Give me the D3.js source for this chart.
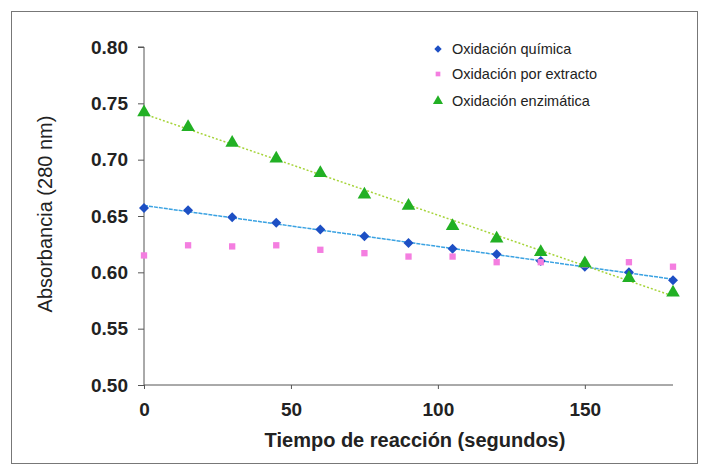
<!DOCTYPE html>
<html>
<head>
<meta charset="utf-8">
<script src="https://cdn.jsdelivr.net/npm/d3@7"></script>
<style>
  html, body { margin: 0; padding: 0; background: #fff; }
  svg { display: block; font-family: "Liberation Sans", Arial, sans-serif; }
</style>
</head>
<body>
<svg id="chart" width="702" height="467"></svg>
<script>
// Reaction time (s) and absorbance at 280 nm for each oxidation method
const tiempos = [0, 15, 30, 45, 60, 75, 90, 105, 120, 135, 150, 165, 180];
const quimica = [0.657, 0.655, 0.649, 0.644, 0.638, 0.632, 0.626, 0.621, 0.616, 0.610, 0.605, 0.600, 0.593];
const extracto = [0.615, 0.624, 0.623, 0.624, 0.620, 0.617, 0.614, 0.614, 0.609, 0.609, 0.607, 0.609, 0.605];
const enzimatica = [0.742, 0.729, 0.715, 0.701, 0.688, 0.669, 0.659, 0.641, 0.630, 0.618, 0.608, 0.595, 0.582];

const xTicks = [0, 50, 100, 150];
const yTicks = [0.50, 0.55, 0.60, 0.65, 0.70, 0.75, 0.80];

// diamond = square turned 45 degrees
const series = [
  { name: "Oxidación química", values: quimica, color: "#1d4fc4", shape: d3.symbolSquare, rot: 45, size: 50, trend: "#3aa2e2", dash: "4,1" },
  { name: "Oxidación por extracto", values: extracto, color: "#f47ee0", shape: d3.symbolSquare, rot: 0, size: 40, trend: null },
  { name: "Oxidación enzimática", values: enzimatica, color: "#22b024", shape: d3.symbolTriangle, rot: 0, size: 80, trend: "#a6d43a", dash: "2,2" }
];

const svg = d3.select("#chart");
const plotLeft = 144, plotRight = 673, plotTop = 47, plotBottom = 385;

const x = d3.scaleLinear().domain([0, 180]).range([plotLeft, plotRight]);
const y = d3.scaleLinear().domain([0.5, 0.8]).range([plotBottom, plotTop]);

// outer frame
svg.append("rect")
  .attr("x", 11.5).attr("y", 11.5).attr("width", 686).attr("height", 452)
  .attr("fill", "none").attr("stroke", "#777").attr("stroke-width", 1);

// y axis
const yAxis = svg.append("g")
  .attr("transform", `translate(${plotLeft},0)`)
  .call(d3.axisLeft(y).tickValues(yTicks).tickFormat(d3.format(".2f")).tickSize(6).tickPadding(10));
yAxis.select(".domain").attr("stroke", "#555").attr("d", `M-6,${plotTop}H0V${plotBottom}`);
yAxis.selectAll(".tick line").attr("stroke", "#555");
yAxis.selectAll(".tick text")
  .attr("font-size", 19).attr("font-weight", "bold").attr("fill", "#222")
  .attr("font-family", "Liberation Sans, Arial, sans-serif");

// x axis
const xAxis = svg.append("g")
  .attr("transform", `translate(0,${plotBottom})`)
  .call(d3.axisBottom(x).tickValues(xTicks).tickSize(4).tickPadding(14));
xAxis.select(".domain").attr("stroke", "#555").attr("d", `M${plotLeft},0H${plotRight}`);
xAxis.selectAll(".tick line").attr("stroke", "#555");
xAxis.selectAll(".tick text")
  .attr("font-size", 19).attr("font-weight", "bold").attr("fill", "#222")
  .attr("font-family", "Liberation Sans, Arial, sans-serif");

// axis titles
svg.append("text")
  .attr("x", 415).attr("y", 447)
  .attr("text-anchor", "middle")
  .attr("font-size", 20).attr("font-weight", "bold").attr("fill", "#222")
  .text("Tiempo de reacción (segundos)");

svg.append("text")
  .attr("transform", "translate(52,214) rotate(-90)")
  .attr("text-anchor", "middle")
  .attr("font-size", 20).attr("fill", "#222")
  .text("Absorbancia (280 nm)");

// linear trend lines (least squares on each series)
function fit(vals) {
  const mx = d3.mean(tiempos), my = d3.mean(vals);
  let sxy = 0, sxx = 0;
  tiempos.forEach((t, i) => { sxy += (t - mx) * (vals[i] - my); sxx += (t - mx) * (t - mx); });
  const b = sxy / sxx, a = my - b * mx;
  return t => a + b * t;
}

series.filter(s => s.trend).forEach(s => {
  const f = fit(s.values);
  svg.append("line")
    .attr("x1", x(0)).attr("y1", y(f(0)))
    .attr("x2", x(180)).attr("y2", y(f(180)))
    .attr("stroke", s.trend).attr("stroke-width", 1.5)
    .attr("stroke-dasharray", s.dash);
});

// markers
series.forEach(s => {
  svg.append("g").selectAll("path")
    .data(s.values)
    .join("path")
    .attr("transform", (d, i) => `translate(${x(tiempos[i])},${y(d)}) rotate(${s.rot})`)
    .attr("d", d3.symbol().type(s.shape).size(s.size))
    .attr("fill", s.color);
});

// legend
const legendRows = [49, 74, 101];
const legend = svg.append("g");
series.forEach((s, i) => {
  legend.append("path")
    .attr("transform", `translate(438,${legendRows[i]}) rotate(${s.rot})`)
    .attr("d", d3.symbol().type(s.shape).size(s.size * 0.55))
    .attr("fill", s.color);
  legend.append("text")
    .attr("x", 452).attr("y", legendRows[i] + 5)
    .attr("font-size", 14.5).attr("fill", "#222")
    .text(s.name);
});
</script>
</body>
</html>
